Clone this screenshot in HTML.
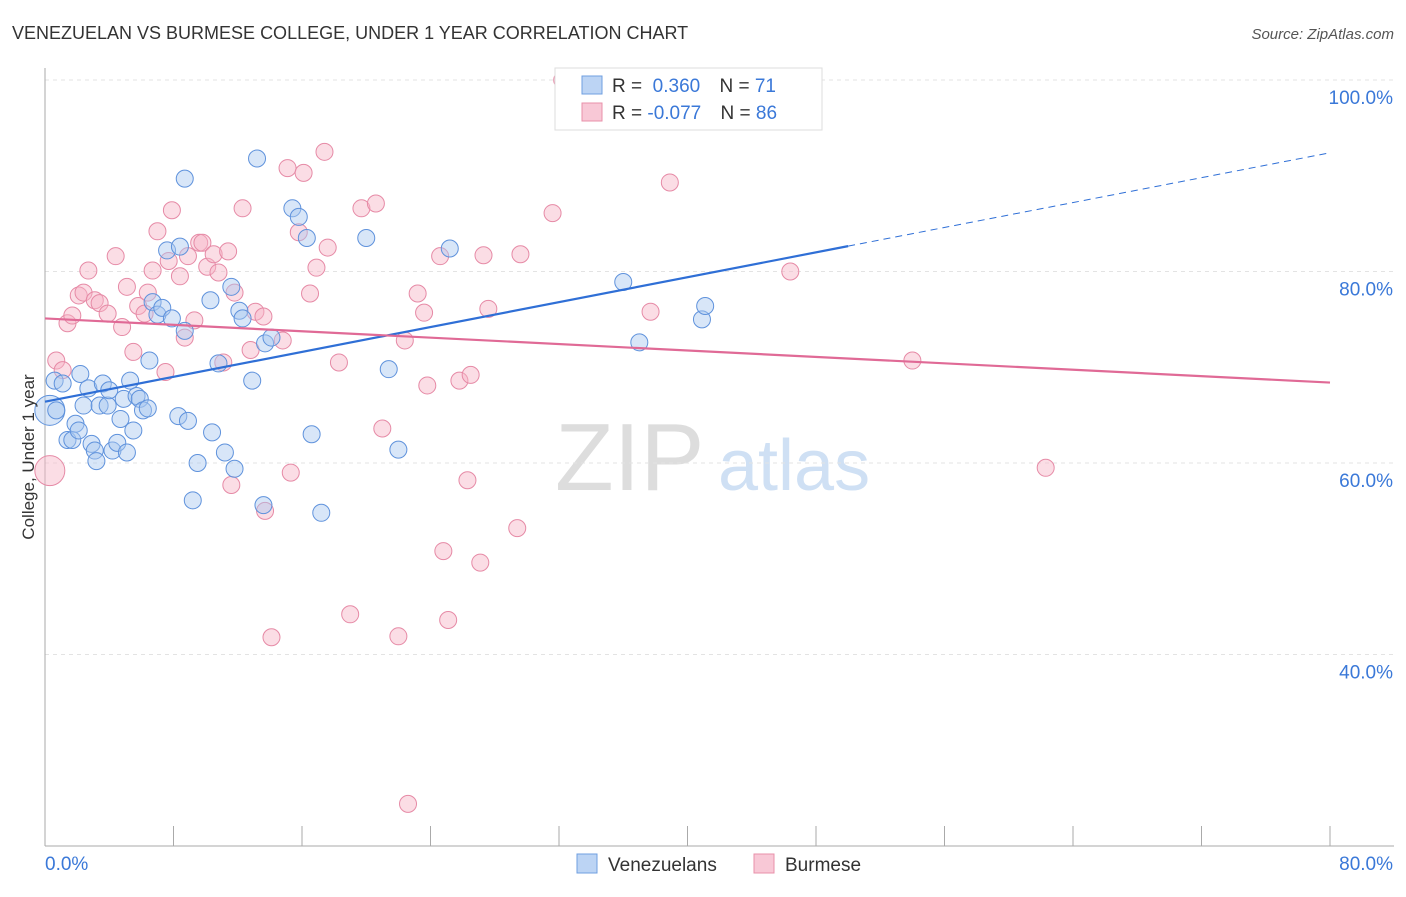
<!DOCTYPE html>
<html><head><meta charset="utf-8"><style>
body{margin:0;background:#fff;font-family:"Liberation Sans",sans-serif;}
svg text{font-family:"Liberation Sans",sans-serif;}
</style></head><body>
<svg id="chart" width="1406" height="892" viewBox="0 0 1406 892" xmlns="http://www.w3.org/2000/svg">
<text x="12" y="39" font-size="18" fill="#333">VENEZUELAN VS BURMESE COLLEGE, UNDER 1 YEAR CORRELATION CHART</text>
<text x="1394" y="39" font-size="15" fill="#555" font-style="italic" text-anchor="end">Source: ZipAtlas.com</text>
<g>
<text x="555" y="490" font-size="96" fill="#ddd" font-family="Liberation Serif">ZIP</text>
<text x="718" y="490" font-size="72" fill="#cfe0f4">atlas</text>
</g>
<g id="grid"></g>
<g id="axes"></g>
<g id="pts"></g>
<g id="trends"></g>
<text transform="translate(34,457) rotate(-90)" font-size="17" fill="#333" text-anchor="middle">College, Under 1 year</text>
<g>
<rect x="555" y="68" width="267" height="62" fill="#fff" stroke="#ddd"/>
<rect x="582" y="76" width="20" height="18" fill="#bcd4f4" stroke="#6f9fe0"/>
<rect x="582" y="103" width="20" height="18" fill="#f8c8d6" stroke="#e890aa"/>
<text x="612" y="92" font-size="19" fill="#333">R = <tspan fill="#3a78d8">&#160;0.360</tspan>   <tspan dx="14">N = </tspan><tspan fill="#3a78d8"> 71</tspan></text>
<text x="612" y="119" font-size="19" fill="#333">R = <tspan fill="#3a78d8">-0.077</tspan>   <tspan dx="14">N = </tspan><tspan fill="#3a78d8"> 86</tspan></text>
</g>
<g>
<rect x="577" y="854" width="20" height="19" fill="#bcd4f4" stroke="#6f9fe0"/>
<text x="608" y="871" font-size="19" fill="#333">Venezuelans</text>
<rect x="754" y="854" width="20" height="19" fill="#f8c8d6" stroke="#e890aa"/>
<text x="785" y="871" font-size="19" fill="#333">Burmese</text>
</g>
</svg>
<script>
const yTicks=[40,60,80,100];
const yTickLabels=["40.0%","60.0%","80.0%","100.0%"];
const xTickLabels=["0.0%","80.0%"];
const venX=[0.3,0.6,0.7,1.1,1.4,1.7,1.9,2.1,2.2,2.4,2.7,2.9,3.1,3.2,3.4,3.6,3.9,4.0,4.2,4.5,4.7,4.9,5.1,5.3,5.5,5.7,5.9,6.1,6.4,6.5,6.7,7.0,7.3,7.6,7.9,8.3,8.4,8.7,8.7,8.9,9.2,9.5,10.3,10.4,10.8,11.2,11.6,11.8,12.1,12.3,12.9,13.2,13.6,13.7,14.1,15.4,15.8,16.3,16.6,17.2,20.0,21.4,22.0,25.2,36.0,37.0,40.9,41.1];
const venY=[65.5,68.6,65.5,68.3,62.4,62.4,64.1,63.4,69.3,66.0,67.8,62.0,61.3,60.2,66.0,68.3,66.0,67.6,61.3,62.1,64.6,66.7,61.1,68.6,63.4,67.0,66.7,65.5,65.7,70.7,76.8,75.5,76.2,82.2,75.1,64.9,82.6,89.7,73.8,64.4,56.1,60.0,77.0,63.2,70.4,61.1,78.4,59.4,75.9,75.1,68.6,91.8,55.6,72.5,73.1,86.6,85.7,83.5,63.0,54.8,83.5,69.8,61.4,82.4,78.9,72.6,75.0,76.4];
const burX=[0.3,0.7,1.1,1.4,1.7,2.1,2.4,2.7,3.1,3.4,3.9,4.4,4.8,5.1,5.5,5.8,6.2,6.4,6.7,7.0,7.5,7.7,7.9,8.4,8.7,8.9,9.3,9.6,9.8,10.1,10.5,10.8,11.1,11.4,11.6,11.8,12.3,12.8,13.1,13.6,13.7,14.1,14.8,15.1,15.3,15.8,16.1,16.5,16.9,17.4,17.6,18.3,19.0,19.7,20.6,21.0,22.0,22.4,22.6,23.2,23.6,23.8,24.6,24.8,25.1,25.8,26.3,26.5,27.1,27.3,27.6,29.4,29.6,31.6,32.2,37.7,38.9,46.4,54.0,62.3];
const burY=[59.2,70.7,69.7,74.6,75.4,77.5,77.8,80.1,77.0,76.7,75.6,81.6,74.2,78.4,71.6,76.4,75.6,77.8,80.1,84.2,69.5,81.1,86.4,79.5,73.1,81.6,74.9,83.0,83.0,80.5,81.8,79.9,70.5,82.1,57.7,77.8,86.6,71.8,75.8,75.3,55.0,41.8,72.8,90.8,59.0,84.1,90.3,77.7,80.4,92.5,82.5,70.5,44.2,86.6,87.1,63.6,41.9,72.8,24.4,77.7,75.7,68.1,81.6,50.8,43.6,68.6,58.2,69.2,49.6,81.7,76.1,53.2,81.8,86.1,100.0,75.8,89.3,80.0,70.7,59.5];
const venTrend=[66.4,92.4]; // y at x=0 and x=80
const burTrend=[75.1,68.4];
const venSolidEnd=50;

const NS="http://www.w3.org/2000/svg";
const X0=45,X1=1330,Y_BASE=846,PX_PER_Y=191.5/20;
const xs=v=>X0+(v/80)*(X1-X0);
const ys=v=>Y_BASE-(v-20)*PX_PER_Y;
function mk(tag,attrs,parent){const e=document.createElementNS(NS,tag);for(const k in attrs)e.setAttribute(k,attrs[k]);parent.appendChild(e);return e;}
const grid=document.getElementById('grid'),axes=document.getElementById('axes'),pts=document.getElementById('pts'),trends=document.getElementById('trends');
yTicks.forEach((t,i)=>{
  const l=mk('line',{x1:X0,x2:1394,y1:ys(t),y2:ys(t),stroke:'#e3e3e3','stroke-dasharray':'4,4'},grid);
  
  
  const tx=mk('text',{x:1393,y:ys(t)+24,'font-size':19,fill:'#3a78d8','text-anchor':'end'},grid);
  tx.textContent=yTickLabels[i];
  
  
});
const ya=mk('line',{x1:X0,x2:X0,y1:68,y2:Y_BASE,stroke:'#aaa'},axes);


const xa=mk('line',{x1:X0,x2:1394,y1:Y_BASE,y2:Y_BASE,stroke:'#aaa'},axes);


for(let i=0;i<=10;i++){
  const t=mk('line',{x1:xs(i*8),x2:xs(i*8),y1:Y_BASE,y2:826,stroke:'#aaa'},axes);
  
  
}
[[0,'start',45],[80,'end',1393]].forEach((d,i)=>{
  const t=mk('text',{x:d[2],y:870,'font-size':19,fill:'#3a78d8','text-anchor':d[1]},axes);
  t.textContent=xTickLabels[i];
  
  
});
function dots(X,Y,fill,stroke,name){
  X.forEach((x,i)=>{
    const r=(x<1&&i===0)?15:8.5;
    const c=mk('circle',{cx:xs(x),cy:ys(Y[i]),r:r,fill:fill,'fill-opacity':0.45,stroke:stroke,'stroke-width':1},pts);
    
    
  });
}
dots(burX,burY,'#f6b3c6','#e68aa6','burmese-point');
dots(venX,venY,'#a9c7ef','#5f92dc','venezuelan-point');
const vAt=x=>venTrend[0]+(venTrend[1]-venTrend[0])*x/80;
const l1=mk('line',{x1:xs(0),y1:ys(vAt(0)),x2:xs(venSolidEnd),y2:ys(vAt(venSolidEnd)),stroke:'#2f6fd6','stroke-width':2.2},trends);


const l2=mk('line',{x1:xs(venSolidEnd),y1:ys(vAt(venSolidEnd)),x2:xs(80),y2:ys(vAt(80)),stroke:'#2f6fd6','stroke-width':1,'stroke-dasharray':'7,5'},trends);


const l3=mk('line',{x1:xs(0),y1:ys(burTrend[0]),x2:xs(80),y2:ys(burTrend[1]),stroke:'#e06a96','stroke-width':2.2},trends);


</script>
</body></html>
